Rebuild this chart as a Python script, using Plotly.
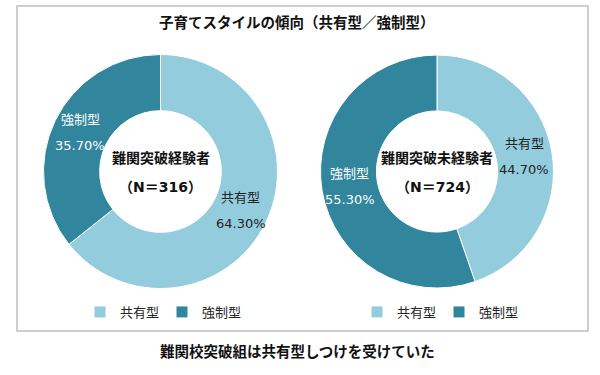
import math
import plotly.graph_objects as go

title = "子育てスタイルの傾向（共有型／強制型）"
footer = "難関校突破組は共有型しつけを受けていた"
labels = ["共有型", "強制型"]
group_names = ["難関突破経験者", "難関突破未経験者"]
group_n = [316, 724]
values_exp = [64.3, 35.7]
values_noexp = [44.7, 55.3]
colors = ["#93CDDD", "#31859C"]
text_colors = ["#222222", "#FFFFFF"]

W, H = 600, 375
FONT = "DejaVu Sans, Noto Sans CJK JP"
HOLE = 0.52

def px_dom(cx, cy, r):
    return dict(x=[(cx - r) / W, (cx + r) / W], y=[(H - cy - r) / H, (H - cy + r) / H])

pies = [
    (values_exp, (160.5, 171.5, 117), "legend", labels),
    (values_noexp, (437, 171.5, 116.5), "legend2", [l + " " for l in labels]),
]

fig = go.Figure()
ann = [dict(text=f"<b>{title}</b>", x=297 / W, y=(H - 23) / H, font=dict(size=14.5))]

for (vals, (cx, cy, r), lg, labs), name, n in zip(pies, group_names, group_n):
    fig.add_trace(go.Pie(
        labels=labs, values=vals, sort=False, direction="clockwise", rotation=0,
        hole=HOLE, domain=px_dom(cx, cy, r),
        marker=dict(colors=colors, line=dict(color="white", width=1)),
        textinfo="none", hoverinfo="label+percent", legend=lg, showlegend=True,
    ))
    total = sum(vals)
    cum = 0.0
    rm = r * (1 + HOLE) / 2
    for v, lab, tc in zip(vals, labels, text_colors):
        th = 2 * math.pi * (cum + v / 2) / total
        cum += v
        x = cx + rm * math.sin(th)
        y = cy - rm * math.cos(th)
        ann.append(dict(text=lab, x=x / W, y=(H - (y - 13)) / H, font=dict(size=13, color=tc)))
        ann.append(dict(text=f"{v:.2f}%", x=x / W, y=(H - (y + 13)) / H, font=dict(size=13, color=tc)))
    ann.append(dict(text=f"<b>{name}</b>", x=cx / W, y=(H - 158) / H, font=dict(size=14)))
    ann.append(dict(text=f"<b>（N＝{n}）</b>", x=cx / W, y=(H - 187) / H, font=dict(size=14)))

ann.append(dict(text=f"<b>{footer}</b>", x=297 / W, y=(H - 351) / H, font=dict(size=14.5)))
for a in ann:
    a.update(xref="paper", yref="paper", showarrow=False, xanchor="center", yanchor="middle")
    a["font"]["family"] = FONT
    a["font"].setdefault("color", "#111111")

legend_common = dict(orientation="h", yanchor="middle", xanchor="left",
                     entrywidth=37, entrywidthmode="pixels",
                     font=dict(family=FONT, size=13, color="#222222"),
                     bgcolor="rgba(0,0,0,0)", itemclick=False, itemdoubleclick=False)

fig.update_layout(
    width=W, height=H, margin=dict(l=0, r=0, t=0, b=0),
    paper_bgcolor="white", plot_bgcolor="white",
    font=dict(family=FONT),
    annotations=ann,
    legend=dict(x=80 / W, y=(H - 312) / H, **legend_common),
    legend2=dict(x=357 / W, y=(H - 312) / H, **legend_common),
    shapes=[dict(type="rect", xref="paper", yref="paper",
                 x0=17 / W, x1=588 / W, y0=(H - 331) / H, y1=(H - 6) / H,
                 line=dict(color="#BFBFBF", width=1.5), fillcolor="rgba(0,0,0,0)",
                 layer="above")],
)

fig.write_html("out.html", config={"displayModeBar": False},
               post_script="document.body.style.margin='0';document.body.style.padding='0';")
